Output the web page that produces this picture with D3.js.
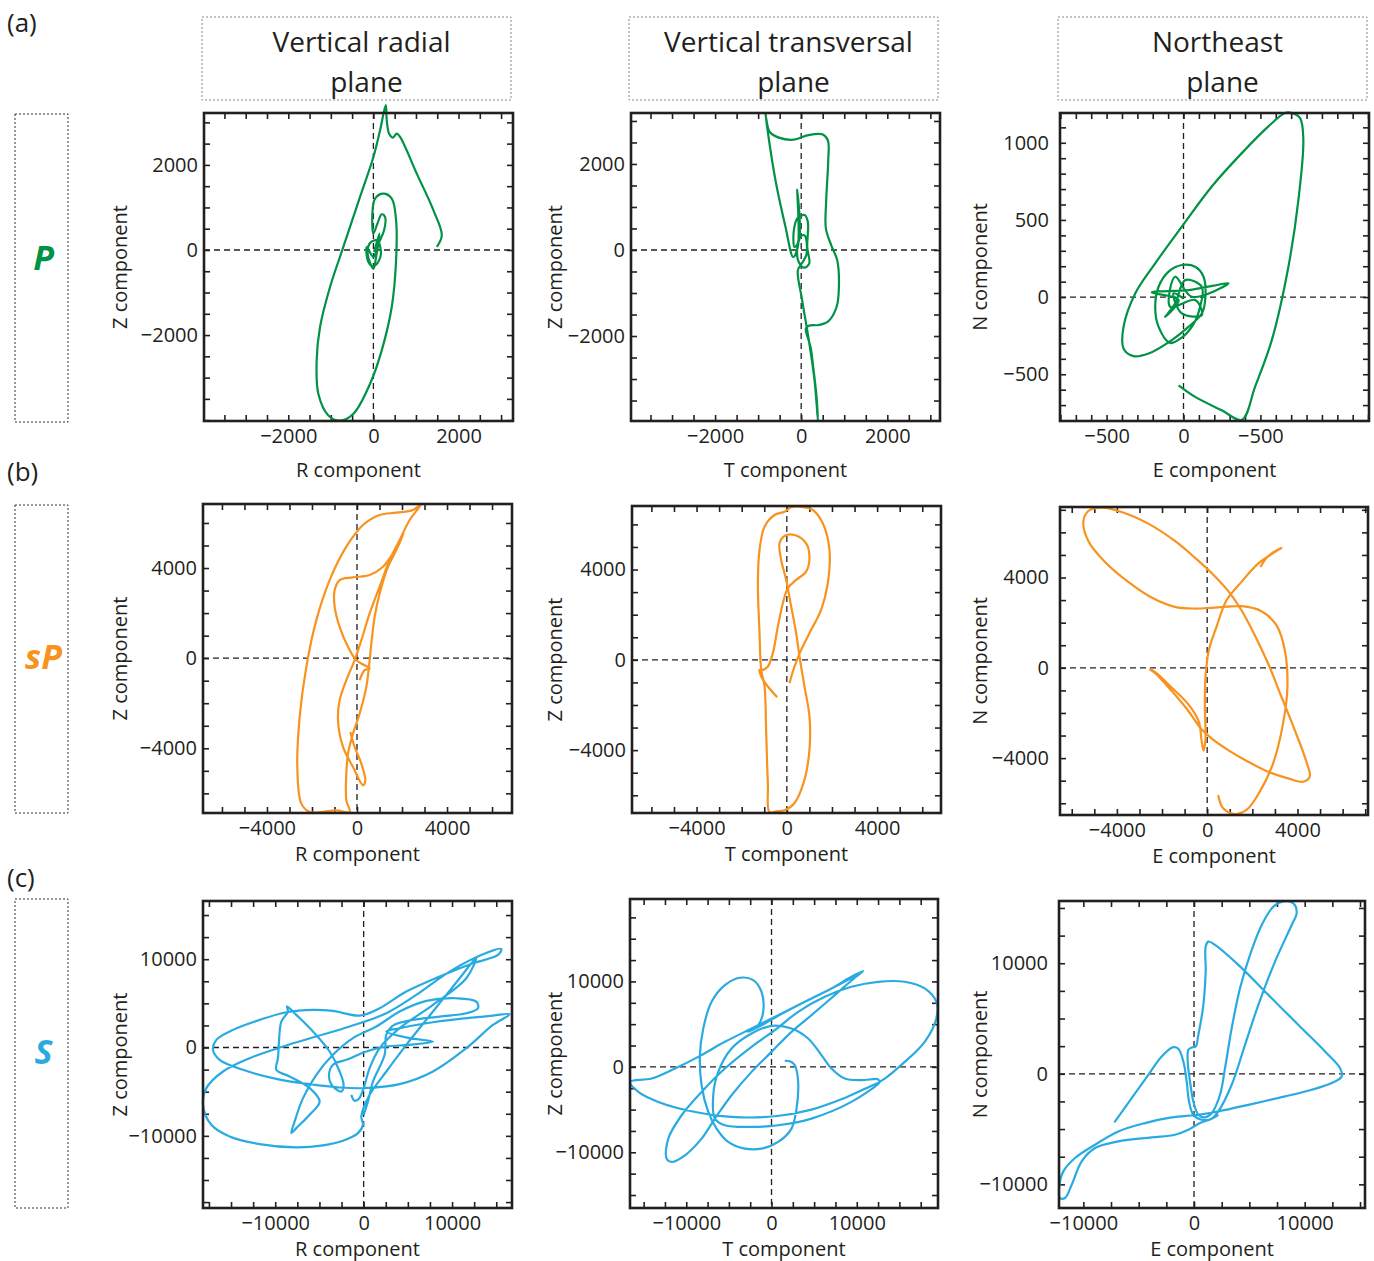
<!DOCTYPE html>
<html>
<head>
<meta charset="utf-8">
<script src="https://cdn.jsdelivr.net/npm/d3@7"></script>
<style>
  body { margin: 0; background: #fff; }
  text { font-family: "Open Sans", sans-serif; fill: #231f20; }
</style>
</head>
<body>
<svg id="fig" width="1374" height="1261"></svg>
<script>
// Particle motion of P, sP and S waves in three planes

// ---- data: [x, y] samples of each trajectory ----
const pRadial = [[1490,71],[1607,345],[1411,933],[1019,1795],[627,2658],[549,2736],[455,2642],[368,2736],[314,3050],[290,3403],
  [157,2815],[0,2187],[-314,1247],[-706,71],[-1019,-870],[-1254,-1811],[-1333,-2595],[-1294,-3379],[-1058,-3889],[-784,-4010],
  [-470,-3849],[-78,-3144],[196,-2360],[431,-1341],[533,-243],[533,698],[431,1207],[235,1325],[39,1207],[-24,855],[0,384],
  [94,619],[196,839],[274,776],[251,463],[118,149],[0,-165],[-157,71],[-118,-282],[0,-384],[141,-227],[172,8],[78,227],
  [-78,165],[-133,-102],[0,-439],[63,-165],[141,384],[16,-47]];

const pTransverse = [[-829,3180],[-791,2860],[-597,1620],[-364,535],[-186,-163],[-78,70],[-93,1403],[-47,225],[-155,70],
  [-171,457],[-78,752],[78,814],[155,651],[140,70],[186,-318],[62,-411],[-78,-225],[-31,302],[78,341],[124,-101],[0,-333],
  [-78,-473],[23,-1170],[178,-2100],[310,-3030],[388,-3960],[357,-3418],[279,-2720],[217,-2255],[109,-1829],[178,-1759],
  [411,-1744],[628,-1659],[822,-1325],[876,-860],[837,-240],[698,109],[574,496],[581,1155],[628,2085],[620,2550],[488,2689],
  [140,2666],[-171,2565],[-519,2612],[-729,2744],[-806,3015],[-829,3180]];

const pNortheast = [[-32,-572],[76,-647],[249,-734],[379,-795],[465,-582],[574,-279],[682,197],[747,630],[779,1020],[758,1160],
  [704,1193],[660,1193],[552,1106],[379,933],[184,717],[-11,457],[-184,219],[-314,24],[-390,-193],[-390,-333],[-325,-383],
  [-227,-366],[-76,-279],[32,-193],[119,-106],[141,-19],[130,132],[76,197],[-11,208],[-97,165],[-162,67],[-184,-63],
  [-162,-193],[-87,-297],[-11,-262],[65,-175],[108,-63],[119,67],[11,110],[-54,-41],[-119,-128],[-32,-19],[-206,30],[32,45],
  [292,89],[54,2],[-54,132],[-87,-63],[76,-19],[119,-117],[-11,-106],[-65,24],[0,-9]];

const spRadial = [[118,-977],[341,-533],[563,-459],[-30,-89],[-400,504],[-770,1392],[-992,2281],[-992,3021],[-770,3466],
  [-178,3584],[563,3688],[1155,4058],[1599,4650],[2073,5539],[1748,4798],[1377,4058],[1007,2873],[785,1836],[637,652],
  [563,-89],[415,-1274],[118,-2458],[-178,-3347],[-400,-4236],[-474,-5124],[-474,-6309],[-326,-6827],[-918,-6753],
  [-1585,-6827],[-2103,-6827],[-2473,-6457],[-2651,-4828],[-2547,-2607],[-2251,-385],[-1807,1688],[-1214,3466],[-474,4947],
  [267,5909],[1007,6353],[1748,6457],[2488,6576],[2858,6842],[2340,6131],[1896,5243],[1451,4354],[1007,3169],[563,1985],
  [193,800],[-104,-89],[-474,-977],[-770,-1866],[-844,-2755],[-622,-3939],[-178,-4828],[267,-5643],[370,-5450],[193,-4680],
  [-104,-3939],[-296,-3273]];

const spTransverse = [[118,-1033],[339,-295],[634,443],[1077,1328],[1519,2213],[1814,3393],[1888,4868],[1593,6048],[1151,6638],
  [634,6780],[192,6760],[-103,6564],[-546,6416],[-988,5900],[-1210,4868],[-1283,3393],[-1210,1180],[-1136,-443],[-988,-1180],
  [-915,-3245],[-841,-5458],[-767,-6760],[-472,-6711],[-103,-6667],[339,-6343],[782,-5310],[1003,-3983],[1003,-2508],
  [782,-1180],[561,148],[413,1180],[192,2360],[-30,3540],[-251,4425],[-325,5163],[-103,5487],[339,5531],[856,5163],
  [1003,4499],[856,3909],[413,3540],[44,3171],[-177,2508],[-398,1475],[-620,295],[-841,-295],[-1062,-443],[-1210,-443],
  [-1136,-738],[-841,-1180],[-428,-1652]];

const spNortheast = [[487,-5635],[708,-6225],[1224,-6475],[1741,-6298],[2331,-5487],[2921,-4233],[3363,-2463],[3555,-841],
  [3437,782],[3068,1888],[2404,2508],[1519,2729],[339,2670],[-546,2626],[-1431,2699],[-2463,3112],[-3496,3806],[-4528,4691],
  [-5266,5620],[-5487,6461],[-5266,6947],[-4676,7095],[-3791,6903],[-2611,6387],[-1431,5620],[-546,4882],[192,4204],
  [929,3407],[1519,2552],[2109,1446],[2699,192],[3289,-1283],[3879,-2758],[4396,-4160],[4543,-4823],[4248,-5045],
  [3584,-4897],[2699,-4602],[1814,-4160],[929,-3643],[192,-3127],[-280,-2685],[-841,-1903],[-1578,-1018],[-2316,-221],
  [-2537,-74],[-2316,-177],[-1578,-870],[-841,-1608],[-369,-2390],[-251,-3201],[-162,-3673],[-74,-3127],[-103,-1726],
  [-74,-398],[74,782],[413,1814],[856,2994],[1519,3806],[2257,4617],[3289,5310],[2699,4941],[2360,4469]];

const sRadial = [[-1395,-5353],[-1018,-6032],[-528,-5806],[0,-4599],[679,-2337],[1810,-75],[4072,2187],[7842,4826],
  [11612,7842],[12743,10179],[10858,7842],[7842,4072],[4826,302],[2564,-2714],[679,-5353],[-264,-7804],[-75,-8746],
  [-641,-9689],[-2337,-10556],[-4599,-11084],[-7615,-11310],[-11762,-10933],[-15155,-10066],[-17229,-8746],[-18171,-6484],
  [-17794,-4599],[-15909,-2714],[-12893,-1206],[-9123,113],[-5353,1244],[-1583,2375],[2564,3883],[5957,5957],[9727,8596],
  [13497,10556],[15570,11159],[15193,10481],[12366,9538],[8596,8030],[4826,6334],[1810,4449],[-452,3619],[-3468,4147],
  [-5730,4260],[-8746,3996],[-11762,3129],[-14778,1998],[-16663,867],[-17040,-264],[-16286,-1395],[-13647,-2526],
  [-9877,-3544],[-6107,-4147],[-2714,-4524],[-75,-4599],[4072,-4147],[7842,-2714],[11612,-75],[14628,2564],[16513,3770],
  [14628,3619],[10858,3242],[7088,2752],[4072,2187],[2564,1810],[5203,1056],[7842,679],[5203,302],[2564,113],[302,-452],
  [-1960,-1395],[-3468,-1960],[-3921,-3280],[-3468,-4411],[-2526,-4976],[-2262,-4298],[-2714,-2714],[-3845,-452],
  [-5730,1810],[-7615,3695],[-8671,4637],[-8558,4072],[-9312,2941],[-9576,679],[-9689,-1206],[-9877,-2526],[-8369,-3280],
  [-6107,-4599],[-4976,-6107],[-6107,-7615],[-7615,-9123],[-8181,-9689],[-7804,-8369],[-6861,-5730],[-5353,-3091],
  [-3468,-829],[-1206,1056],[1433,2375],[4072,4072],[7088,5278],[10481,5580],[12743,5203],[12931,4449],[11612,3883],
  [8596,3506],[5580,3129],[3318,2488],[2564,1433],[2375,-829],[1056,-3845],[490,-6107],[0,-7615]];

const sTransverse = [[1562,703],[2148,664],[2734,195],[3125,-1758],[2930,-4883],[2344,-7226],[781,-8789],[-1172,-9570],
  [-3125,-9570],[-5078,-8789],[-6445,-7226],[-7421,-5273],[-8203,-2148],[-8398,1367],[-8007,4492],[-7031,7617],
  [-5468,9570],[-3711,10429],[-2148,10156],[-1172,8789],[-977,6445],[-1562,4883],[-2734,4101],[-781,5078],[781,5976],
  [3906,7617],[7031,9179],[9374,10546],[10742,11210],[9765,10429],[7421,8398],[4687,6054],[2344,4101],[0,1758],
  [-2344,-586],[-4687,-3320],[-6640,-6054],[-8203,-8398],[-10156,-10351],[-11718,-11132],[-12304,-10742],[-12109,-8398],
  [-10546,-5664],[-8203,-2930],[-5468,-195],[-2344,2344],[391,4297],[3125,6445],[6250,8203],[9374,9374],[12499,9960],
  [15624,9960],[17968,9179],[19335,7617],[19335,5664],[17968,2930],[15624,586],[12695,-1680],[12499,-1445],[10546,-1562],
  [8593,-1367],[7031,-195],[5859,1367],[4297,3320],[2344,4492],[0,4804],[-2344,3906],[-4687,2148],[-6250,-586],
  [-6835,-3320],[-6640,-6054],[-5468,-6835],[-2344,-7031],[781,-6835],[4687,-6054],[9374,-4101],[12695,-1836],
  [8593,-3633],[4687,-5000],[391,-5781],[-4687,-5859],[-9374,-5195],[-13280,-4101],[-15624,-2930],[-16600,-1758],
  [-14062,-1367],[-11327,-195],[-8593,1172],[-5468,2930],[-2344,4492],[781,6054],[3906,7617],[7031,9179],[10156,10820]];

const sNortheast = [[-7199,-4398],[-5632,-2199],[-4126,-90],[-2922,1566],[-1867,2410],[-1416,2259],[-964,1114],[-663,-693],
  [-452,-2500],[-60,-3705],[693,-4157],[1596,-4066],[2199,-3404],[3404,-994],[4608,2620],[5813,6235],[7319,10150],
  [8825,13464],[9277,14518],[8976,15421],[8072,15600],[7169,15120],[6114,13464],[5060,10753],[4157,7741],[3404,4126],
  [2801,512],[2349,-1898],[1596,-3554],[994,-3946],[392,-3705],[-60,-2500],[-361,-693],[-572,1114],[-512,2169],[-211,2379],
  [151,2470],[392,3524],[843,6235],[1054,9247],[1054,11506],[1295,11958],[1898,11656],[4006,9849],[6717,7138],[9729,4126],
  [11837,2018],[13193,512],[13343,-241],[12440,-843],[10632,-1446],[8223,-2048],[5211,-2741],[2199,-3404],[392,-3705],
  [-2018,-3946],[-4428,-4458],[-6837,-5211],[-8946,-6416],[-10753,-7620],[-11807,-8825],[-12150,-10030],[-12108,-11235],
  [-11656,-11235],[-11054,-10030],[-10150,-7922],[-8946,-6717],[-6837,-6114],[-3825,-5753],[-1717,-5512],[-512,-5060],
  [542,-4458],[1596,-4066],[2199,-3705]];

const series = [pRadial, pTransverse, pNortheast, spRadial, spTransverse, spNortheast, sRadial, sTransverse, sNortheast];

// axis ranges of every panel (data units)
const xDomains = [[-3980, 3280], [-3953, 3224], [-803, 1206],
                  [-6842, 6887], [-6860, 6830], [-6520, 7124],
                  [-18170, 16780], [-16600, 19530], [-12200, 15450]];
const yDomains = [[-4020, 3220], [-3976, 3185], [-803, 1193],
                  [-6872, 6842], [-6785, 6815], [-6520, 7124],
                  [-18170, 16590], [-16520, 19650], [-12140, 15630]];
const xMajor = [[-2000, 0, 2000], [-2000, 0, 2000], [-500, 0, 500],
                [-4000, 0, 4000], [-4000, 0, 4000], [-4000, 0, 4000],
                [-10000, 0, 10000], [-10000, 0, 10000], [-10000, 0, 10000]];
const yMajor = [[-2000, 0, 2000], [-2000, 0, 2000], [-500, 0, 500, 1000],
                [-4000, 0, 4000], [-4000, 0, 4000], [-4000, 0, 4000],
                [-10000, 0, 10000], [-10000, 0, 10000], [-10000, 0, 10000]];
const minorStep = [500, 500, 100, 1000, 1000, 1000, 2500, 2500, 2500];
const neXLabels = ["−500", "0", "−500"];   // as printed in the original

const waveNames = ["P", "sP", "S"];
const waveColors = ["#009245", "#f7931e", "#29abe2"];
const rowTags = ["(a)", "(b)", "(c)"];
const headers = [["Vertical radial", "plane"], ["Vertical transversal", "plane"], ["Northeast", "plane"]];
const xTitles = ["R component", "T component", "E component"];
const yTitles = ["Z component", "Z component", "N component"];

// ---- layout (pixels) ----
const boxes = [[204, 113, 513, 421], [631, 113, 940, 421], [1060, 113, 1369, 421],
               [203, 504, 512, 813], [632, 506, 941, 813], [1060, 507, 1368, 815],
               [203, 901, 512, 1208], [630, 899, 938, 1208], [1059, 901, 1365, 1208]];
const yTitleX = [120, 555, 980];
const xTitleGap = [49, 41, 41];
const tagY = [32, 481, 887];
const sideBoxes = [[15, 114, 68, 422], [15, 505, 68, 813], [15, 899, 68, 1208]];

const svg = d3.select("#fig");
const fmt = d => d < 0 ? "−" + Math.abs(d) : String(d);

series.forEach(function(pts, i) {
  var row = Math.floor(i / 3), col = i % 3;
  var b = boxes[i];
  var x = d3.scaleLinear().domain(xDomains[i]).range([b[0], b[2]]);
  var y = d3.scaleLinear().domain(yDomains[i]).range([b[3], b[1]]);
  var g = svg.append("g");

  var step = minorStep[i];
  var xm = d3.range(Math.ceil(xDomains[i][0] / step) * step, xDomains[i][1], step);
  var ym = d3.range(Math.ceil(yDomains[i][0] / step) * step, yDomains[i][1], step);

  // inward ticks on all four sides
  function ticks(axis, tx, ty) {
    var a = g.append("g").attr("transform", "translate(" + tx + "," + ty + ")").call(axis);
    a.select(".domain").remove();
    a.selectAll("line").attr("stroke", "#231f20").attr("stroke-width", 1.6);
  }
  ticks(d3.axisBottom(x).tickValues(xm).tickSize(-6).tickFormat(""), 0, b[3]);
  ticks(d3.axisTop(x).tickValues(xm).tickSize(-6).tickFormat(""), 0, b[1]);
  ticks(d3.axisLeft(y).tickValues(ym).tickSize(-6).tickFormat(""), b[0], 0);
  ticks(d3.axisRight(y).tickValues(ym).tickSize(-6).tickFormat(""), b[2], 0);

  // tick labels
  var xl = g.append("g").attr("transform", "translate(0," + b[3] + ")")
    .call(d3.axisBottom(x).tickValues(xMajor[i]).tickSize(0).tickPadding(8)
      .tickFormat(function(d, k) { return i === 2 ? neXLabels[k] : fmt(d); }));
  var yl = g.append("g").attr("transform", "translate(" + b[0] + ",0)")
    .call(d3.axisLeft(y).tickValues(yMajor[i].filter(function(v) { return v > yDomains[i][0] && v < yDomains[i][1]; }))
      .tickSize(0).tickPadding(col === 2 ? 11 : 6).tickFormat(fmt));
  [xl, yl].forEach(function(a) {
    a.select(".domain").remove();
    a.attr("font-size", 20).attr("font-family", "'Open Sans', sans-serif");
    a.selectAll("text").attr("fill", "#231f20");
  });

  // dashed zero lines
  g.append("line").attr("x1", x(0)).attr("x2", x(0)).attr("y1", b[1]).attr("y2", b[3])
    .attr("stroke", "#231f20").attr("stroke-width", 1.3).attr("stroke-dasharray", "6,4");
  g.append("line").attr("x1", b[0]).attr("x2", b[2]).attr("y1", y(0)).attr("y2", y(0))
    .attr("stroke", "#231f20").attr("stroke-width", 1.3).attr("stroke-dasharray", "6,4");

  // trajectory
  var line = d3.line().x(function(d) { return x(d[0]); }).y(function(d) { return y(d[1]); })
    .curve(d3.curveCatmullRom.alpha(0.5));
  g.append("path").datum(pts).attr("d", line).attr("fill", "none")
    .attr("stroke", waveColors[row]).attr("stroke-width", 2.2).attr("stroke-linejoin", "round");

  // frame
  g.append("rect").attr("x", b[0]).attr("y", b[1]).attr("width", b[2] - b[0]).attr("height", b[3] - b[1])
    .attr("fill", "none").attr("stroke", "#231f20").attr("stroke-width", 2.6);

  // axis titles
  g.append("text").attr("x", (b[0] + b[2]) / 2).attr("y", b[3] + xTitleGap[row] + 7)
    .attr("text-anchor", "middle").attr("font-size", 20).text(xTitles[col]);
  g.append("text").attr("transform", "translate(" + (yTitleX[col] + 7) + "," + ((b[1] + b[3]) / 2) + ") rotate(-90)")
    .attr("text-anchor", "middle").attr("font-size", 20).text(yTitles[col]);
});

// column headers
headers.forEach(function(h, c) {
  var b = boxes[c];
  svg.append("rect").attr("x", b[0] - 2).attr("y", 17).attr("width", b[2] - b[0]).attr("height", 83)
    .attr("fill", "none").attr("stroke", "#888").attr("stroke-width", 1).attr("stroke-dasharray", "2,2");
  h.forEach(function(t, k) {
    svg.append("text").attr("x", (b[0] + b[2]) / 2 + 3 + k * 5).attr("y", 52 + k * 40)
      .attr("text-anchor", "middle").attr("font-size", 28).text(t);
  });
});

// row tags and wave names
rowTags.forEach(function(t, r) {
  svg.append("text").attr("x", 7).attr("y", tagY[r]).attr("font-size", 26).text(t);
  var s = sideBoxes[r];
  svg.append("rect").attr("x", s[0]).attr("y", s[1]).attr("width", s[2] - s[0]).attr("height", s[3] - s[1])
    .attr("fill", "none").attr("stroke", "#333").attr("stroke-width", 1).attr("stroke-dasharray", "2,2");
  svg.append("text").attr("x", (s[0] + s[2]) / 2 + 2).attr("y", r === 0 ? 270 : (s[1] + s[3]) / 2 + 10)
    .attr("text-anchor", "middle").attr("font-size", 34).attr("font-weight", "bold").attr("font-style", "italic")
    .style("fill", waveColors[r]).text(waveNames[r]);
});
</script>
</body>
</html>
